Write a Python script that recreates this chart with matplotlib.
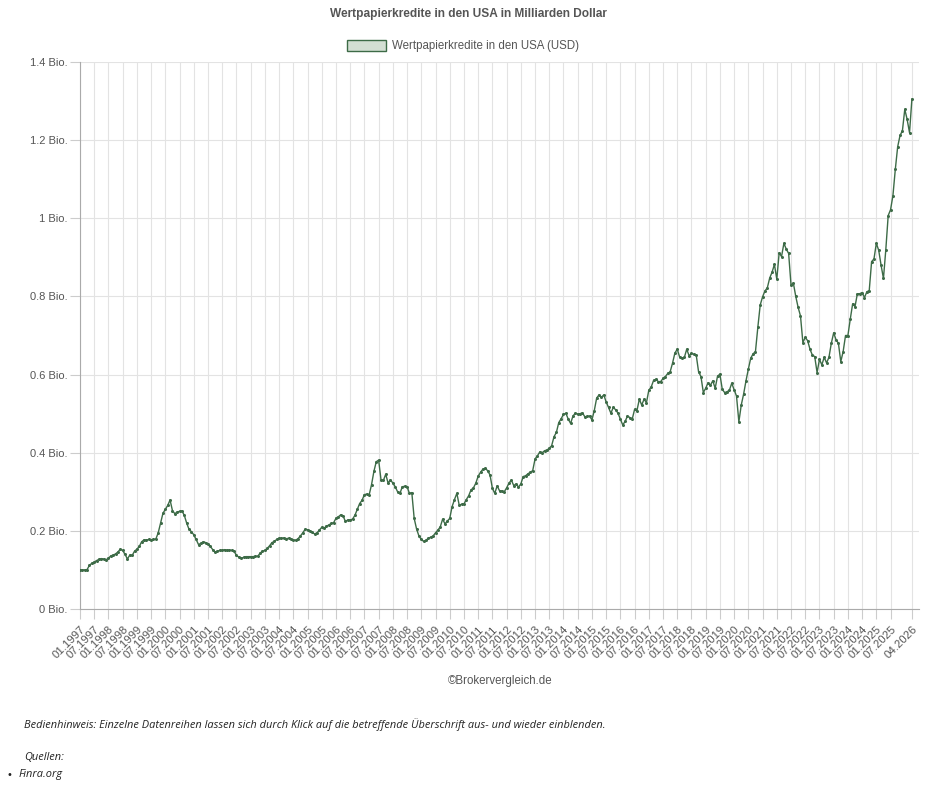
import matplotlib
matplotlib.use("Agg")
import matplotlib.pyplot as plt
from matplotlib.patches import Patch

# Monthly values in trillion USD ("Bio."), 01.1997 - 04.2026
v1997 = [0.100, 0.100, 0.100, 0.101, 0.112, 0.117, 0.120, 0.124, 0.127, 0.129, 0.128, 0.126]
v1998 = [0.130, 0.136, 0.138, 0.141, 0.146, 0.153, 0.150, 0.140, 0.128, 0.138, 0.137, 0.148]
v1999 = [0.153, 0.160, 0.172, 0.177, 0.176, 0.178, 0.177, 0.178, 0.179, 0.195, 0.220, 0.245]
v2000 = [0.255, 0.265, 0.279, 0.252, 0.244, 0.248, 0.250, 0.251, 0.240, 0.220, 0.204, 0.198]
v2001 = [0.190, 0.178, 0.165, 0.168, 0.172, 0.170, 0.166, 0.160, 0.152, 0.145, 0.148, 0.150]
v2002 = [0.150, 0.152, 0.150, 0.151, 0.150, 0.148, 0.137, 0.133, 0.130, 0.132, 0.134, 0.134]
v2003 = [0.134, 0.134, 0.135, 0.135, 0.143, 0.148, 0.150, 0.155, 0.162, 0.170, 0.173, 0.178]
v2004 = [0.181, 0.181, 0.182, 0.180, 0.181, 0.180, 0.177, 0.176, 0.180, 0.187, 0.195, 0.204]
v2005 = [0.203, 0.200, 0.196, 0.192, 0.195, 0.202, 0.209, 0.207, 0.212, 0.215, 0.219, 0.221]
v2006 = [0.232, 0.236, 0.241, 0.238, 0.224, 0.228, 0.228, 0.230, 0.240, 0.255, 0.270, 0.278]
v2007 = [0.293, 0.294, 0.292, 0.318, 0.352, 0.377, 0.381, 0.331, 0.329, 0.345, 0.322, 0.331]
v2008 = [0.322, 0.313, 0.300, 0.296, 0.313, 0.314, 0.313, 0.296, 0.298, 0.232, 0.205, 0.187]
v2009 = [0.178, 0.173, 0.176, 0.181, 0.184, 0.187, 0.195, 0.202, 0.210, 0.230, 0.218, 0.225]
v2010 = [0.232, 0.262, 0.280, 0.296, 0.266, 0.268, 0.269, 0.280, 0.290, 0.305, 0.310, 0.322]
v2011 = [0.340, 0.350, 0.358, 0.360, 0.354, 0.343, 0.309, 0.296, 0.315, 0.303, 0.302, 0.300]
v2012 = [0.310, 0.322, 0.330, 0.316, 0.320, 0.312, 0.320, 0.339, 0.341, 0.346, 0.350, 0.354]
v2013 = [0.384, 0.392, 0.402, 0.400, 0.405, 0.407, 0.411, 0.418, 0.441, 0.452, 0.477, 0.487]
v2014 = [0.498, 0.501, 0.486, 0.475, 0.494, 0.501, 0.499, 0.500, 0.502, 0.492, 0.493, 0.494]
v2015 = [0.484, 0.508, 0.540, 0.548, 0.542, 0.548, 0.530, 0.516, 0.501, 0.516, 0.510, 0.501]
v2016 = [0.486, 0.471, 0.480, 0.494, 0.490, 0.486, 0.511, 0.508, 0.537, 0.522, 0.537, 0.528]
v2017 = [0.560, 0.568, 0.585, 0.588, 0.582, 0.582, 0.590, 0.595, 0.603, 0.607, 0.629, 0.655]
v2018 = [0.665, 0.645, 0.642, 0.644, 0.665, 0.648, 0.654, 0.652, 0.650, 0.607, 0.595, 0.554]
v2019 = [0.565, 0.579, 0.573, 0.584, 0.565, 0.596, 0.601, 0.562, 0.554, 0.556, 0.560, 0.578]
v2020 = [0.561, 0.545, 0.479, 0.522, 0.550, 0.584, 0.614, 0.642, 0.653, 0.659, 0.721, 0.778]
v2021 = [0.799, 0.814, 0.822, 0.847, 0.862, 0.882, 0.844, 0.912, 0.902, 0.936, 0.921, 0.910]
v2022 = [0.829, 0.834, 0.800, 0.772, 0.750, 0.682, 0.695, 0.687, 0.665, 0.650, 0.646, 0.605]
v2023 = [0.639, 0.625, 0.644, 0.630, 0.644, 0.680, 0.707, 0.689, 0.680, 0.633, 0.659, 0.700]
v2024 = [0.700, 0.742, 0.781, 0.774, 0.807, 0.807, 0.810, 0.797, 0.812, 0.815, 0.889, 0.896]
v2025 = [0.936, 0.918, 0.880, 0.846, 0.920, 1.007, 1.022, 1.058, 1.125, 1.183, 1.212, 1.224]
v2026 = [1.279, 1.253, 1.219, 1.305]

values = (v1997 + v1998 + v1999 + v2000 + v2001 + v2002 + v2003 + v2004 + v2005
          + v2006 + v2007 + v2008 + v2009 + v2010 + v2011 + v2012 + v2013 + v2014
          + v2015 + v2016 + v2017 + v2018 + v2019 + v2020 + v2021 + v2022 + v2023
          + v2024 + v2025 + v2026)
months = list(range(len(values)))

# tick labels every 6 months plus the last month
tick_pos = list(range(0, 343, 6)) + [len(values) - 1]
tick_labels = [f"{(m % 12) + 1:02d}.{1997 + m // 12}" for m in tick_pos]

y_ticks = [0, 0.2, 0.4, 0.6, 0.8, 1.0, 1.2, 1.4]
y_labels = [f"{v:g} Bio." for v in y_ticks]

line_color = "#3d6b47"
text_color = "#555555"

fig = plt.figure(figsize=(9.42, 7.89), dpi=100)
ax = fig.add_axes([80 / 942, 1 - 609 / 789, 839 / 942, 547 / 789])

ax.plot(months, values, color=line_color, linewidth=1.0, marker="o", markersize=2.2,
        markeredgewidth=0, zorder=3)

ax.set_xlim(0, 354)
ax.set_ylim(0, 1.4)
ax.set_yticks(y_ticks)
ax.set_yticklabels(y_labels, fontsize=8, color=text_color, fontfamily="Liberation Sans")
ax.set_xticks(tick_pos)
ax.set_xticklabels(tick_labels, rotation=45, ha="right", rotation_mode="anchor",
                   fontsize=8.2, color=text_color, fontfamily="Liberation Sans")
ax.tick_params(axis="both", length=7, color="#cccccc", width=0.8, pad=2)
ax.tick_params(axis="x", pad=4)

ax.grid(True, color="#e3e3e3", linewidth=0.8, zorder=0)
for side in ["top", "right"]:
    ax.spines[side].set_visible(False)
ax.spines["left"].set_color("#aaaaaa")
ax.spines["bottom"].set_color("#aaaaaa")

# title and legend
fig.text(468 / 942, 1 - 14 / 789, "Wertpapierkredite in den USA in Milliarden Dollar",
         ha="center", va="center", fontsize=8.6, fontweight="bold", color=text_color,
         fontfamily="Liberation Sans")
handle = Patch(facecolor="#d3dfd3", edgecolor=line_color, linewidth=1.0)
fig.legend([handle], ["Wertpapierkredite in den USA (USD)"], loc="center",
           bbox_to_anchor=(463 / 942, 1 - 46 / 789), frameon=False, handlelength=3.4,
           handleheight=1.1, handletextpad=0.5,
           prop={"family": "Liberation Sans", "size": 8.3}, labelcolor=text_color)

fig.text(500 / 942, 1 - 681 / 789, "©Brokervergleich.de", ha="center", va="center",
         fontsize=8.3, color=text_color, fontfamily="Liberation Sans")

# footer notes
fig.text(24 / 942, 1 - 725 / 789,
         "Bedienhinweis: Einzelne Datenreihen lassen sich durch Klick auf die betreffende "
         "Überschrift aus- und wieder einblenden.",
         ha="left", va="center", fontsize=7.9, style="italic", color="#222222",
         fontfamily="Open Sans")
fig.text(24 / 942, 1 - 757 / 789, "Quellen:", ha="left", va="center", fontsize=7.9,
         style="italic", color="#222222", fontfamily="Open Sans")
fig.text(7 / 942, 1 - 775 / 789, "•", ha="left", va="center", fontsize=7,
         color="#222222", fontfamily="DejaVu Sans")
fig.text(19 / 942, 1 - 775 / 789, "Finra.org", ha="left", va="center", fontsize=7.9,
         style="italic", color="#222222", fontfamily="Open Sans")

fig.savefig("out.png", dpi=100)
